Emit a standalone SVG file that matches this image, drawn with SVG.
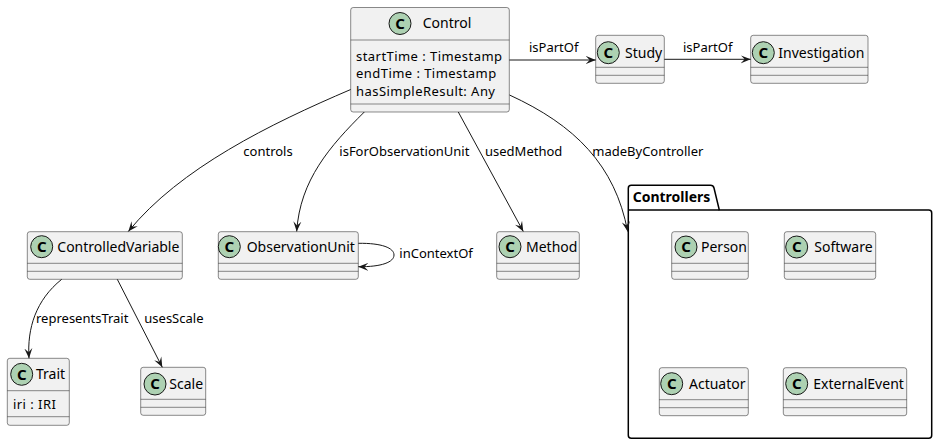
<svg xmlns="http://www.w3.org/2000/svg" width="937" height="445" viewBox="0 0 937 445">
  <style>
    .box { fill: #F1F1F1; stroke: #181818; stroke-width: 0.5; }
    .sep { stroke: #181818; stroke-width: 0.5; fill: none; }
    .spot { fill: #ADD1B2; stroke: #181818; stroke-width: 1; }
    .spotc { font-family: "Noto Sans", "DejaVu Sans", sans-serif; font-size: 15px; font-weight: bold; fill: #000; text-anchor: middle; }
    .name { font-family: "Noto Sans", "DejaVu Sans", sans-serif; font-size: 14px; fill: #000; }
    .attr { font-family: "Noto Sans", "DejaVu Sans", sans-serif; font-size: 13px; letter-spacing: 0.45px; fill: #000; }
    .lbl { font-family: "Noto Sans", "DejaVu Sans", sans-serif; font-size: 13px; fill: #000; }
    .pkgt { font-family: "Noto Sans", "DejaVu Sans", sans-serif; font-size: 14px; font-weight: bold; fill: #000; }
    .edge { fill: none; stroke: #181818; stroke-width: 1; marker-end: url(#arrow); }
  </style>
  <defs>
    <marker id="arrow" markerUnits="userSpaceOnUse" viewBox="0 0 10 10" refX="10" refY="5" markerWidth="10" markerHeight="10" orient="auto">
      <path d="M0,1 L10,5 L0,9 L4,5 Z" fill="#181818"/>
    </marker>
  </defs>

  <!-- package: Controllers -->
  <g id="pkg-controllers">
    <path d="M631.3,185.3 L710.5,185.3 Q713.3,185.3 714,188 L719.3,210 L928.7,210 Q931.7,210 931.7,213 L931.7,435.3 Q931.7,438.3 928.7,438.3 L631.3,438.3 Q628.3,438.3 628.3,435.3 L628.3,188.3 Q628.3,185.3 631.3,185.3 Z" fill="#FFFFFF" stroke="#000000" stroke-width="1.5"/>
    <line x1="628.3" y1="210" x2="719.3" y2="210" stroke="#000000" stroke-width="1.5"/>
    <text class="pkgt" x="632.7" y="201.7">Controllers</text>
  </g>

  <!-- class: Control -->
  <g id="control">
    <rect class="box" x="350.7" y="7.5" width="158.6" height="104.5" rx="2.5"/>
    <line class="sep" x1="350.7" y1="40" x2="509.3" y2="40"/>
    <line class="sep" x1="350.7" y1="104" x2="509.3" y2="104"/>
    <circle class="spot" cx="400" cy="23.5" r="11"/>
    <text class="spotc" x="400" y="28.8">C</text>
    <text class="name" x="422.7" y="28.3">Control</text>
    <text class="attr" x="356" y="60.5">startTime : Timestamp</text>
    <text class="attr" x="356" y="78">endTime : Timestamp</text>
    <text class="attr" x="356" y="95.5">hasSimpleResult: Any</text>
  </g>

  <!-- class: Study -->
  <g id="study">
    <rect class="box" x="595.7" y="35.3" width="68.6" height="48" rx="2.5"/>
    <line class="sep" x1="595.7" y1="67.3" x2="664.3" y2="67.3"/>
    <line class="sep" x1="595.7" y1="75.3" x2="664.3" y2="75.3"/>
    <circle class="spot" cx="608.3" cy="52.7" r="11"/>
    <text class="spotc" x="608.3" y="58">C</text>
    <text class="name" x="625" y="57.5">Study</text>
  </g>

  <!-- class: Investigation -->
  <g id="investigation">
    <rect class="box" x="750.7" y="35.3" width="117.3" height="48" rx="2.5"/>
    <line class="sep" x1="750.7" y1="67.3" x2="868" y2="67.3"/>
    <line class="sep" x1="750.7" y1="75.3" x2="868" y2="75.3"/>
    <circle class="spot" cx="763.3" cy="52.7" r="11"/>
    <text class="spotc" x="763.3" y="58">C</text>
    <text class="name" x="778.3" y="57.5">Investigation</text>
  </g>

  <!-- class: ControlledVariable -->
  <g id="controlled-variable">
    <rect class="box" x="27.3" y="231.7" width="155" height="47.6" rx="2.5"/>
    <line class="sep" x1="27.3" y1="263.3" x2="182.3" y2="263.3"/>
    <line class="sep" x1="27.3" y1="271.3" x2="182.3" y2="271.3"/>
    <circle class="spot" cx="41.7" cy="246.7" r="11"/>
    <text class="spotc" x="41.7" y="252">C</text>
    <text class="name" x="57.3" y="251.7">ControlledVariable</text>
  </g>

  <!-- class: ObservationUnit -->
  <g id="observation-unit">
    <rect class="box" x="218.3" y="231.7" width="140" height="47.6" rx="2.5"/>
    <line class="sep" x1="218.3" y1="263.3" x2="358.3" y2="263.3"/>
    <line class="sep" x1="218.3" y1="271.3" x2="358.3" y2="271.3"/>
    <circle class="spot" cx="229.3" cy="246.7" r="11"/>
    <text class="spotc" x="229.3" y="252">C</text>
    <text class="name" x="246.7" y="251.7">ObservationUnit</text>
  </g>

  <!-- class: Method -->
  <g id="method">
    <rect class="box" x="496.7" y="231.7" width="82.6" height="47.6" rx="2.5"/>
    <line class="sep" x1="496.7" y1="263.3" x2="579.3" y2="263.3"/>
    <line class="sep" x1="496.7" y1="271.3" x2="579.3" y2="271.3"/>
    <circle class="spot" cx="510" cy="246.7" r="11"/>
    <text class="spotc" x="510" y="252">C</text>
    <text class="name" x="526" y="251.7">Method</text>
  </g>

  <!-- class: Person -->
  <g id="person">
    <rect class="box" x="671.7" y="231.7" width="76.6" height="47.6" rx="2.5"/>
    <line class="sep" x1="671.7" y1="263.3" x2="748.3" y2="263.3"/>
    <line class="sep" x1="671.7" y1="271.3" x2="748.3" y2="271.3"/>
    <circle class="spot" cx="686" cy="247" r="11"/>
    <text class="spotc" x="686" y="252.3">C</text>
    <text class="name" x="701" y="251.7">Person</text>
  </g>

  <!-- class: Software -->
  <g id="software">
    <rect class="box" x="784.3" y="231.7" width="91.4" height="47.6" rx="2.5"/>
    <line class="sep" x1="784.3" y1="263.3" x2="875.7" y2="263.3"/>
    <line class="sep" x1="784.3" y1="271.3" x2="875.7" y2="271.3"/>
    <circle class="spot" cx="796.7" cy="247" r="11"/>
    <text class="spotc" x="796.7" y="252.3">C</text>
    <text class="name" x="814.3" y="251.7">Software</text>
  </g>

  <!-- class: Actuator -->
  <g id="actuator">
    <rect class="box" x="659.3" y="367.7" width="89" height="48" rx="2.5"/>
    <line class="sep" x1="659.3" y1="399.7" x2="748.3" y2="399.7"/>
    <line class="sep" x1="659.3" y1="407.7" x2="748.3" y2="407.7"/>
    <circle class="spot" cx="671.7" cy="383.7" r="11"/>
    <text class="spotc" x="671.7" y="389">C</text>
    <text class="name" x="689" y="388.5">Actuator</text>
  </g>

  <!-- class: ExternalEvent -->
  <g id="external-event">
    <rect class="box" x="783.3" y="367.7" width="123.4" height="48" rx="2.5"/>
    <line class="sep" x1="783.3" y1="399.7" x2="906.7" y2="399.7"/>
    <line class="sep" x1="783.3" y1="407.7" x2="906.7" y2="407.7"/>
    <circle class="spot" cx="796.7" cy="383.7" r="11"/>
    <text class="spotc" x="796.7" y="389">C</text>
    <text class="name" x="813.3" y="388.5">ExternalEvent</text>
  </g>

  <!-- class: Trait -->
  <g id="trait">
    <rect class="box" x="7.3" y="358.3" width="62" height="67" rx="2.5"/>
    <line class="sep" x1="7.3" y1="390.7" x2="69.3" y2="390.7"/>
    <line class="sep" x1="7.3" y1="416.7" x2="69.3" y2="416.7"/>
    <circle class="spot" cx="21.7" cy="374.3" r="11"/>
    <text class="spotc" x="21.7" y="379.6">C</text>
    <text class="name" x="36" y="379.3">Trait</text>
    <text class="attr" x="13" y="409">iri : IRI</text>
  </g>

  <!-- class: Scale -->
  <g id="scale">
    <rect class="box" x="140.7" y="367.3" width="65" height="48" rx="2.5"/>
    <line class="sep" x1="140.7" y1="399.3" x2="205.7" y2="399.3"/>
    <line class="sep" x1="140.7" y1="407.3" x2="205.7" y2="407.3"/>
    <circle class="spot" cx="155" cy="384" r="11"/>
    <text class="spotc" x="155" y="389.3">C</text>
    <text class="name" x="169.3" y="389">Scale</text>
  </g>

  <!-- associations -->
  <g id="edges">
    <path class="edge" d="M509.3,60 L595.7,60"/>
    <text class="lbl" x="529" y="52">isPartOf</text>

    <path class="edge" d="M664.3,59.3 L750.7,59.3"/>
    <text class="lbl" x="683" y="51.7">isPartOf</text>

    <path class="edge" d="M350.7,89.5 C270,124 180,168 128.3,231.5"/>
    <text class="lbl" x="243.3" y="156">controls</text>

    <path class="edge" d="M364.3,112 C330,146 300,180 296.7,231.5"/>
    <text class="lbl" x="339.3" y="156">isForObservationUnit</text>

    <path class="edge" d="M458.3,112 L523.3,231.5"/>
    <text class="lbl" x="485" y="156">usedMethod</text>

    <path class="edge" d="M509.5,95 C575,125 615,165 627.7,231.5"/>
    <text class="lbl" x="592.3" y="156">madeByController</text>

    <path class="edge" d="M358.3,243.3 C382,243 394,248 394,255 C394,262 382,267 358.3,266.7"/>
    <text class="lbl" x="399.3" y="258">inContextOf</text>

    <path class="edge" d="M61.7,279.3 C36,300 27,328 29,358.3"/>
    <text class="lbl" x="36" y="323">representsTrait</text>

    <path class="edge" d="M117.3,279.3 L162.3,367.3"/>
    <text class="lbl" x="144.3" y="323">usesScale</text>
  </g>
</svg>
